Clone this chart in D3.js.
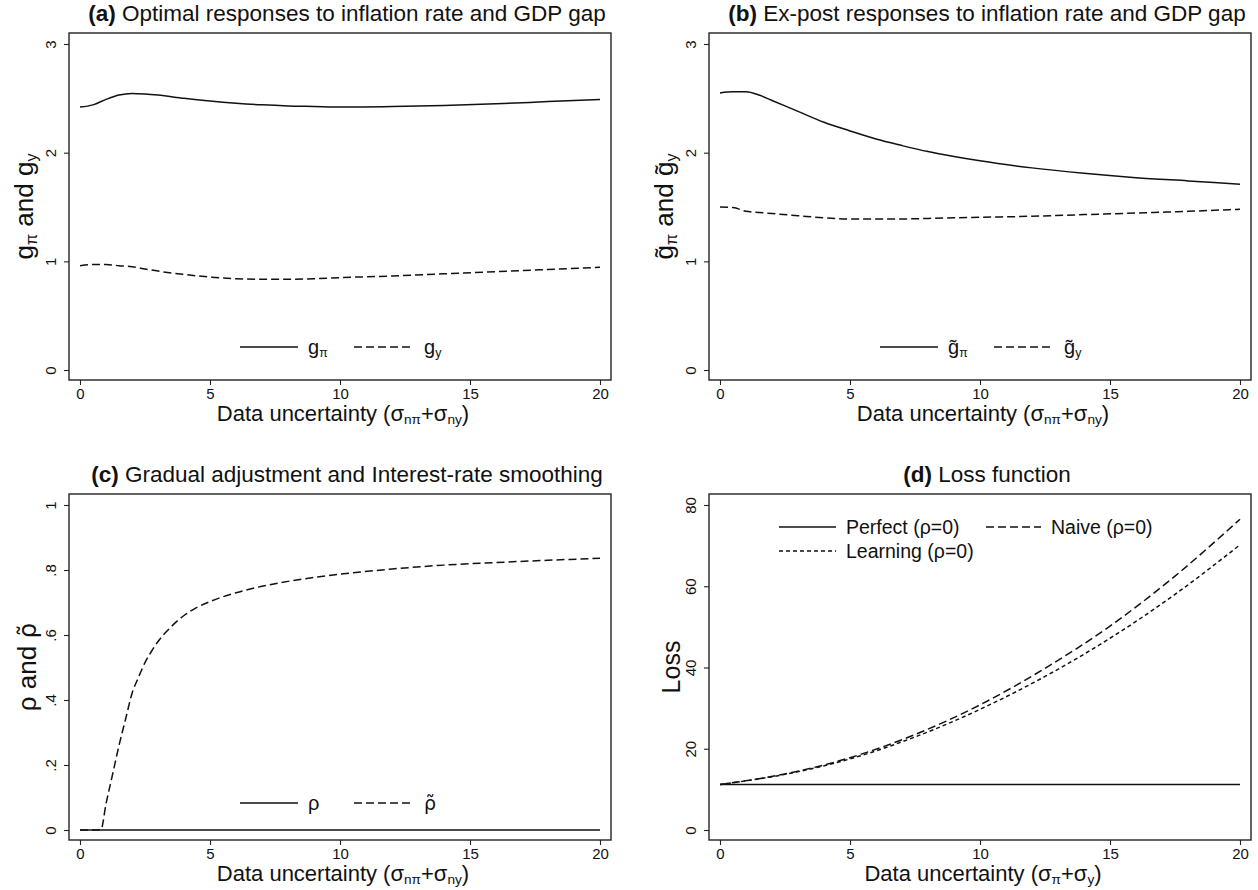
<!DOCTYPE html>
<html>
<head>
<meta charset="utf-8">
<script src="https://cdn.jsdelivr.net/npm/d3@7"></script>
<style>
  html, body { margin: 0; padding: 0; background: #fff; }
  svg { display: block; font-family: "Liberation Sans", Arial, Helvetica, sans-serif; }
</style>
</head>
<body>
<svg id="chart" width="1258" height="890"></svg>
<script>
// ---- Panel (a): optimal responses ----
const xA = [0, 0.5, 1, 1.5, 2, 2.5, 3, 4, 5, 6, 7, 8, 9, 10, 12, 14, 16, 18, 20];
const gPi = [2.42, 2.44, 2.49, 2.53, 2.545, 2.54, 2.53, 2.50, 2.475, 2.455, 2.44, 2.43, 2.425, 2.42, 2.425, 2.435, 2.45, 2.47, 2.49];
const gY  = [0.96, 0.97, 0.97, 0.96, 0.95, 0.93, 0.91, 0.88, 0.855, 0.84, 0.835, 0.835, 0.84, 0.85, 0.865, 0.885, 0.905, 0.925, 0.945];

// ---- Panel (b): ex-post responses ----
const xB = [0, 0.5, 1, 1.5, 2, 3, 4, 5, 6, 7, 8, 9, 10, 12, 14, 16, 18, 20];
const gPiTilde = [2.55, 2.56, 2.56, 2.53, 2.48, 2.38, 2.28, 2.20, 2.125, 2.065, 2.01, 1.965, 1.925, 1.86, 1.81, 1.77, 1.74, 1.71];
const gYTilde  = [1.50, 1.495, 1.46, 1.45, 1.44, 1.42, 1.40, 1.39, 1.39, 1.39, 1.395, 1.40, 1.405, 1.415, 1.43, 1.445, 1.46, 1.48];

// ---- Panel (c): smoothing coefficients ----
const xC = [0, 0.5, 0.8, 1.0, 1.25, 1.5, 1.75, 2, 2.25, 2.5, 2.75, 3, 3.5, 4, 4.5, 5, 6, 7, 8, 10, 12, 14, 16, 18, 20];
const rho = [0, 0, 0, 0, 0, 0, 0, 0, 0, 0, 0, 0, 0, 0, 0, 0, 0, 0, 0, 0, 0, 0, 0, 0, 0];
const rhoTilde = [0, 0, 0, 0.08, 0.17, 0.26, 0.34, 0.42, 0.47, 0.515, 0.55, 0.58, 0.625, 0.66, 0.685, 0.703, 0.73, 0.75, 0.765, 0.787, 0.803, 0.815, 0.823, 0.83, 0.836];

// ---- Panel (d): loss ----
const xD = [0, 2.5, 5, 7.5, 10, 12.5, 15, 17.5, 20];
const lossPerfect  = [11.2, 11.2, 11.2, 11.2, 11.2, 11.2, 11.2, 11.2, 11.2];
const lossNaive    = [11.2, 13.8, 17.8, 23.5, 30.8, 39.8, 50.2, 62.5, 76.5];
const lossLearning = [11.2, 13.7, 17.5, 22.9, 29.7, 37.8, 47.2, 58.0, 70.2];

// ---- Tick labels ----
const xTicks = [0, 5, 10, 15, 20];
const yTicksAB = [0, 1, 2, 3];
const yTicksC = [0, 0.2, 0.4, 0.6, 0.8, 1];
const yTickLabelsC = ["0", ".2", ".4", ".6", ".8", "1"];
const yTicksD = [0, 20, 40, 60, 80];

const svg = d3.select("#chart");
const INK = "#111";
const DASH = "8,4";
const DOT = "4,3";
const FONT = "'Liberation Sans', Arial, sans-serif";

// Text built from segments: {t, sub, b, font}
function richText(sel, parts, size) {
  parts.forEach(p => {
    const ts = sel.append("tspan").text(p.t);
    if (p.b) ts.attr("font-weight", "bold");
    if (p.sub) ts.attr("font-size", size * 0.62).attr("baseline-shift", "-22%");
    if (p.font) ts.attr("font-family", p.font).attr("font-size", size * 0.95);
  });
  return sel;
}

const T = "\u0303"; // combining tilde
// rho with a tilde over it (DejaVu positions the mark over Greek letters)
const rhoT = { t: "ρ" + T, font: "'DejaVu Sans'" };

function drawPanel(cfg) {
  const { box } = cfg;
  const g = svg.append("g");
  const x = d3.scaleLinear().domain([0, 20]).range([box.x0 + 11, box.x1 - 11]);
  const y = d3.scaleLinear().domain(cfg.yDomain).range([box.y1 - 10, box.y0 + 11]);

  // plot frame
  g.append("rect")
    .attr("x", box.x0).attr("y", box.y0)
    .attr("width", box.x1 - box.x0).attr("height", box.y1 - box.y0)
    .attr("fill", "none").attr("stroke", "#222").attr("stroke-width", 1.4);

  // x axis
  const xa = g.append("g").attr("transform", `translate(0,${box.y1})`)
    .call(d3.axisBottom(x).tickValues(xTicks).tickSize(5).tickPadding(3).tickFormat(d3.format("d")));
  xa.select(".domain").remove();
  xa.selectAll("line").attr("stroke", "#222").attr("stroke-width", 1.1);
  xa.selectAll("text").attr("font-size", 15).attr("fill", INK).attr("font-family", FONT);

  // y axis
  const fmtY = d => cfg.yTickLabels ? cfg.yTickLabels[cfg.yTicks.indexOf(d)] : d3.format("d")(d);
  const ya = g.append("g").attr("transform", `translate(${box.x0},0)`)
    .call(d3.axisLeft(y).tickValues(cfg.yTicks).tickSize(5).tickFormat(fmtY));
  ya.select(".domain").remove();
  ya.selectAll("line").attr("stroke", "#222").attr("stroke-width", 1.1);
  ya.selectAll("text").attr("font-size", 15).attr("fill", INK).attr("font-family", FONT)
    .attr("text-anchor", "middle")
    .attr("x", null).attr("dy", null)
    .attr("transform", "translate(-13,0) rotate(-90)");

  // series
  const line = d3.line().x(d => x(d[0])).y(d => y(d[1])).curve(d3.curveMonotoneX);
  cfg.series.forEach(s => {
    g.append("path")
      .datum(s.xs.map((v, i) => [v, s.ys[i]]))
      .attr("d", line)
      .attr("fill", "none").attr("stroke", INK).attr("stroke-width", 1.5)
      .attr("stroke-dasharray", s.dash || null);
  });

  // title
  const t = g.append("text")
    .attr("x", (box.x0 + box.x1) / 2 + 7).attr("y", box.y0 - 12)
    .attr("text-anchor", "middle").attr("font-size", 22.5).attr("fill", INK);
  richText(t, cfg.title, 22.5);

  // x title
  const xt = g.append("text")
    .attr("x", (box.x0 + box.x1) / 2 + 3).attr("y", box.y1 + 41)
    .attr("text-anchor", "middle").attr("font-size", 22).attr("fill", INK);
  richText(xt, cfg.xTitle, 22);

  // y title
  const ys = cfg.yTitleSize || 25;
  const yt = g.append("text")
    .attr("transform", `translate(${box.x0 - cfg.yTitleGap},${(box.y0 + box.y1) / 2}) rotate(-90)`)
    .attr("text-anchor", "middle").attr("font-size", ys).attr("fill", INK);
  richText(yt, cfg.yTitle, ys);

  // legend
  cfg.legend.forEach(item => {
    const lx = box.x0 + item.dx, ly = box.y0 + item.dy;
    const fs = item.size || 20;
    g.append("line")
      .attr("x1", lx).attr("x2", lx + item.len)
      .attr("y1", ly).attr("y2", ly)
      .attr("stroke", INK).attr("stroke-width", 1.5)
      .attr("stroke-dasharray", item.dash || null);
    const lt = g.append("text")
      .attr("x", lx + item.len + 10).attr("y", ly + 7)
      .attr("font-size", fs).attr("fill", INK);
    richText(lt, item.label, fs);
  });
}

const xTitleN = [{ t: "Data uncertainty (σ" }, { t: "nπ", sub: true }, { t: "+σ" }, { t: "ny", sub: true }, { t: ")" }];
const xTitleD = [{ t: "Data uncertainty (σ" }, { t: "π", sub: true }, { t: "+σ" }, { t: "y", sub: true }, { t: ")" }];

drawPanel({
  box: { x0: 69, x1: 611, y0: 33, y1: 380 },
  yDomain: [0, 3], yTicks: yTicksAB,
  title: [{ t: "(a)", b: true }, { t: " Optimal responses to inflation rate and GDP gap" }],
  xTitle: xTitleN,
  yTitle: [{ t: "g" }, { t: "π", sub: true }, { t: " and g" }, { t: "y", sub: true }],
  yTitleSize: 26, yTitleGap: 36,
  series: [
    { xs: xA, ys: gPi },
    { xs: xA, ys: gY, dash: DASH }
  ],
  legend: [
    { dx: 171, dy: 314, len: 58, label: [{ t: "g" }, { t: "π", sub: true }] },
    { dx: 285, dy: 314, len: 60, dash: DASH, label: [{ t: "g" }, { t: "y", sub: true }] }
  ]
});

drawPanel({
  box: { x0: 709, x1: 1251, y0: 33, y1: 380 },
  yDomain: [0, 3], yTicks: yTicksAB,
  title: [{ t: "(b)", b: true }, { t: " Ex-post responses to inflation rate and GDP gap" }],
  xTitle: xTitleN,
  yTitle: [{ t: "g" + T }, { t: "π", sub: true }, { t: " and g" + T }, { t: "y", sub: true }],
  yTitleSize: 26, yTitleGap: 36,
  series: [
    { xs: xB, ys: gPiTilde },
    { xs: xB, ys: gYTilde, dash: DASH }
  ],
  legend: [
    { dx: 171, dy: 314, len: 58, label: [{ t: "g" + T }, { t: "π", sub: true }] },
    { dx: 285, dy: 314, len: 60, dash: DASH, label: [{ t: "g" + T }, { t: "y", sub: true }] }
  ]
});

drawPanel({
  box: { x0: 69, x1: 611, y0: 494, y1: 840 },
  yDomain: [0, 1], yTicks: yTicksC, yTickLabels: yTickLabelsC,
  title: [{ t: "(c)", b: true }, { t: " Gradual adjustment and Interest-rate smoothing" }],
  xTitle: xTitleN,
  yTitle: [{ t: "ρ and " }, rhoT],
  yTitleSize: 26, yTitleGap: 33,
  series: [
    { xs: xC, ys: rho },
    { xs: xC, ys: rhoTilde, dash: DASH }
  ],
  legend: [
    { dx: 171, dy: 309, len: 58, label: [{ t: "ρ" }] },
    { dx: 285, dy: 309, len: 60, dash: DASH, label: [rhoT] }
  ]
});

drawPanel({
  box: { x0: 709, x1: 1251, y0: 494, y1: 840 },
  yDomain: [0, 80], yTicks: yTicksD,
  title: [{ t: "(d)", b: true }, { t: " Loss function" }],
  xTitle: xTitleD,
  yTitle: [{ t: "Loss" }],
  yTitleSize: 25, yTitleGap: 29,
  series: [
    { xs: xD, ys: lossPerfect },
    { xs: xD, ys: lossNaive, dash: DASH },
    { xs: xD, ys: lossLearning, dash: DOT }
  ],
  legend: [
    { dx: 70, dy: 33, len: 57, size: 19.5, label: [{ t: "Perfect (ρ=0)" }] },
    { dx: 277, dy: 33, len: 55, size: 19.5, dash: DASH, label: [{ t: "Naive (ρ=0)" }] },
    { dx: 70, dy: 57, len: 57, size: 19.5, dash: DOT, label: [{ t: "Learning (ρ=0)" }] }
  ]
});
</script>
</body>
</html>
